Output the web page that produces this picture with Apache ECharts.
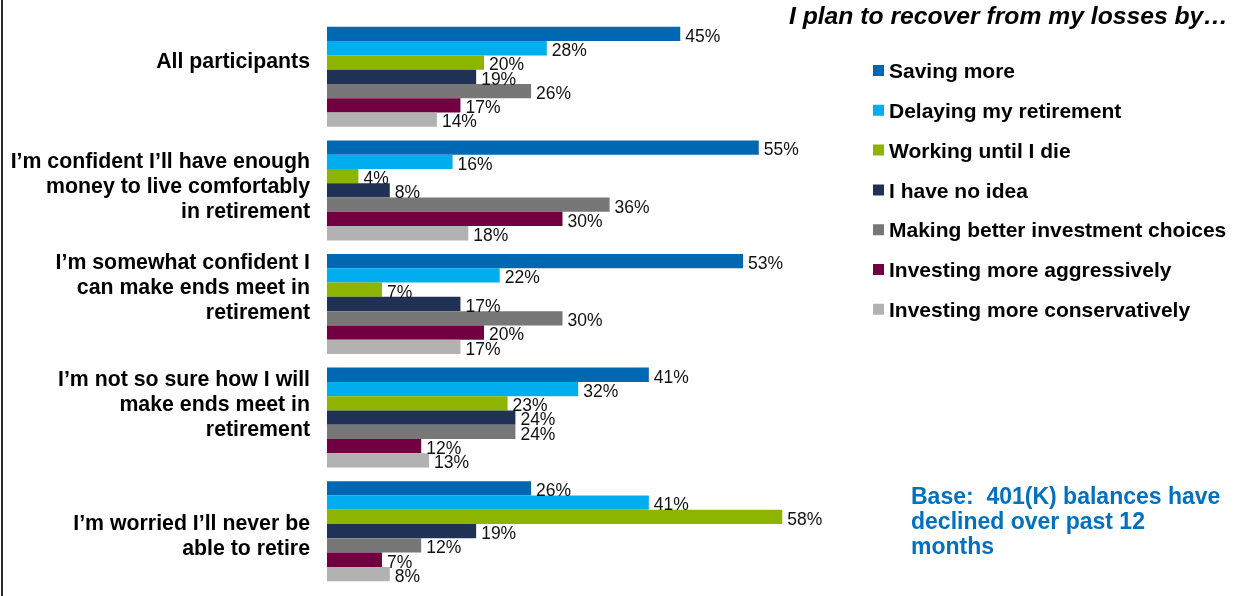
<!DOCTYPE html>
<html>
<head>
<meta charset="utf-8">
<script src="https://cdn.jsdelivr.net/npm/echarts@6/dist/echarts.min.js"></script>
<style>
  html, body { margin: 0; padding: 0; background: #fff; }
  #chart { width: 1238px; height: 596px; }
</style>
</head>
<body>
<div id="chart"></div>
<script>
// Survey groups (top to bottom)
const categories = [
  'All participants',
  'I\u2019m confident I\u2019ll have enough\nmoney to live comfortably\nin retirement',
  'I\u2019m somewhat confident I\ncan make ends meet in\nretirement',
  'I\u2019m not so sure how I will\nmake ends meet in\nretirement',
  'I\u2019m worried I\u2019ll never be\nable to retire'
];

// Share of respondents (%) per recovery plan, one value per group
const seriesNames = [
  'Saving more',
  'Delaying my retirement',
  'Working until I die',
  'I have no idea',
  'Making better investment choices',
  'Investing more aggressively',
  'Investing more conservatively'
];
const savingMore     = [45, 55, 53, 41, 26];
const delaying       = [28, 16, 22, 32, 41];
const workingUntil   = [20, 4, 7, 23, 58];
const noIdea         = [19, 8, 17, 24, 19];
const betterChoices  = [26, 36, 30, 24, 12];
const aggressive     = [17, 30, 20, 12, 7];
const conservative   = [14, 18, 17, 13, 8];

const seriesValues = [savingMore, delaying, workingUntil, noIdea, betterChoices, aggressive, conservative];
const colors = ['#0068B3', '#00AEEF', '#8CB400', '#1F3256', '#777777', '#720040', '#B2B2B2'];

const FONT = '"Liberation Sans", Arial, Helvetica, sans-serif';

// Extra blank space above (positive) or below (negative) each group's caption,
// used to nudge the caption block off the band centre.
const captionSpacer = [-30, -6, -32, -24, 10];

const spacerRich = {};
captionSpacer.forEach(h => {
  spacerRich['s' + Math.abs(h)] = { fontSize: 1, lineHeight: Math.abs(h) };
});

function captionText(value, index) {
  const h = captionSpacer[index];
  const tag = '{s' + Math.abs(h) + '| }';
  return h > 0 ? tag + '\n' + value : value + '\n' + tag;
}

// square legend marker sitting in the upper part of its box
const legendIcon = 'path://M0,0L11,0L11,11L0,11ZM0,15L0.001,15L0.001,15.001Z';

const chart = echarts.init(document.getElementById('chart'), null, { renderer: 'canvas' });

chart.setOption({
  animation: false,
  backgroundColor: '#ffffff',
  textStyle: { fontFamily: FONT },
  title: [
    {
      text: 'I plan to recover from my losses by\u2026',
      right: 10,
      top: 5,
      padding: 0,
      textStyle: {
        fontFamily: FONT, fontSize: 24.7, fontWeight: 'bold', fontStyle: 'italic',
        color: '#000', lineHeight: 25
      }
    },
    {
      text: 'Base:  401(K) balances have\ndeclined over past 12\nmonths',
      left: 911,
      top: 485.5,
      padding: 0,
      textStyle: {
        fontFamily: FONT, fontSize: 23, fontWeight: 'bold',
        color: '#0070C0', lineHeight: 24.7
      }
    }
  ],
  legend: {
    orient: 'vertical',
    left: 873,
    top: 62,
    padding: 0,
    itemWidth: 11,
    itemHeight: 15,
    itemGap: 18.8,
    icon: legendIcon,
    selectedMode: false,
    data: seriesNames,
    itemStyle: { borderWidth: 0 },
    textStyle: {
      fontFamily: FONT, fontSize: 21, fontWeight: 'bold', color: '#000', lineHeight: 21
    }
  },
  grid: {
    left: 327,
    top: 20,
    width: 785,
    height: 568,
    containLabel: false
  },
  xAxis: {
    type: 'value',
    min: 0,
    max: 100,
    show: false
  },
  yAxis: {
    type: 'category',
    inverse: true,
    data: categories,
    axisLine: { show: false },
    axisTick: { show: false },
    splitLine: { show: false },
    axisLabel: {
      margin: 17,
      fontFamily: FONT,
      fontSize: 21.3,
      fontWeight: 'bold',
      color: '#000',
      lineHeight: 25,
      align: 'right',
      formatter: captionText,
      rich: spacerRich
    }
  },
  series: seriesNames.map((name, i) => ({
    name,
    type: 'bar',
    data: seriesValues[i],
    barGap: '0%',
    barCategoryGap: '12%',
    itemStyle: { color: colors[i] },
    label: {
      show: true,
      position: 'right',
      distance: 5,
      offset: [0, 3],
      formatter: '{c}%',
      fontFamily: FONT,
      fontSize: 17.5,
      color: '#111'
    }
  })),
  graphic: [
    {
      type: 'rect',
      left: 1,
      top: 0,
      shape: { width: 2, height: 596 },
      style: { fill: '#2a2a2a' }
    }
  ]
});
</script>
</body>
</html>
